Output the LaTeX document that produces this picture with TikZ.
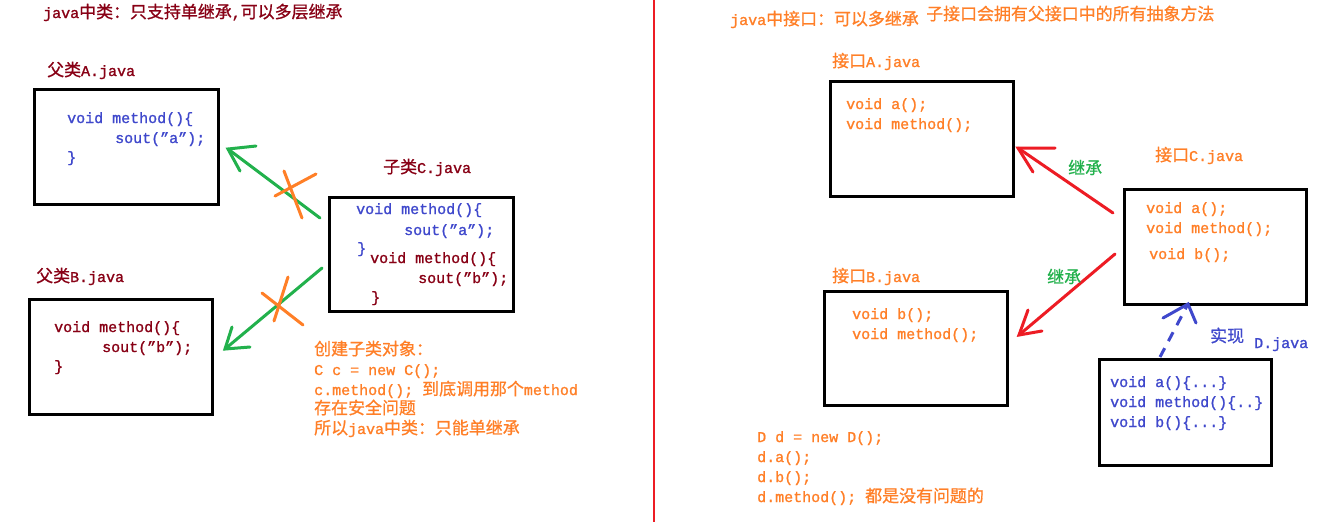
\documentclass[tikz,border=0pt]{standalone}
\usepackage{fontspec}
\setmainfont[FakeBold=1.2]{Liberation Mono}
\newfontfamily\cjk[Scale=1.13,FakeBold=0.8]{Noto Sans CJK SC}
\newcommand\zh[1]{{\cjk #1}}
\definecolor{dred}{HTML}{880015}
\definecolor{pblue}{HTML}{3F48CC}
\definecolor{porange}{HTML}{FF7F27}
\definecolor{pgreen}{HTML}{22B14C}
\definecolor{pred}{HTML}{ED1C24}
\begin{document}
\begin{tikzpicture}[x=1pt,y=-1pt,
  every node/.style={font=\fontsize{15}{20}\selectfont},
  t/.style={anchor=base west, inner sep=0pt},
  box/.style={draw=black, line width=3pt, inner sep=0pt},
  stroke/.style={line width=3pt, line cap=round},
  barb/.style={line width=3pt, line cap=round}]
\useasboundingbox (0,0) rectangle (1333,528);
\fill[white] (0,0) rectangle (1333,528);

% ---------- left half ----------
\node[t, text=dred] (ltitle) at (43,18) {java\zh{中类：只支持单继承},\zh{可以多层继承}};

\node[t, text=dred] (labA) at (47,76) {\zh{父类}A.java};
\node[box, minimum width=184, minimum height=115] (A) at (126.5,147) {};
\node[t, text=pblue] (a1) at (67,123) {void method()\{};
\node[t, text=pblue] (a2) at (115,143) {sout("a");};
\node[t, text=pblue] (a3) at (67,162) {\}};

\node[t, text=dred] (labC) at (383,173) {\zh{子类}C.java};
\node[box, minimum width=184, minimum height=114] (C) at (421.5,254.5) {};
\node[t, text=pblue] (c1) at (356,214) {void method()\{};
\node[t, text=pblue] (c2) at (404,235) {sout("a");};
\node[t, text=pblue] (c3) at (357,253) {\}};
\node[t, text=dred] (c4) at (370,263) {void method()\{};
\node[t, text=dred] (c5) at (418,283) {sout("b");};
\node[t, text=dred] (c6) at (371,302) {\}};

\node[t, text=dred] (labB) at (36,282) {\zh{父类}B.java};
\node[box, minimum width=183, minimum height=115] (B) at (121,357) {};
\node[t, text=dred] (b1) at (54,332) {void method()\{};
\node[t, text=dred] (b2) at (102,352) {sout("b");};
\node[t, text=dred] (b3) at (54,371) {\}};

% green arrows C -> A, C -> B
\coordinate (gA0) at (320,218);
\coordinate (gA1) at (228,149);
\coordinate (gB0) at (322,268);
\coordinate (gB1) at (225,349);
\draw[stroke, pgreen] (gA0) -- (gA1);
\draw[barb, pgreen] (256,146) -- (gA1) -- (240,171);
\draw[stroke, pgreen] (gB0) -- (gB1);
\draw[barb, pgreen] (250,347) -- (gB1) -- (232,327);

% orange crosses
\draw[stroke, porange] (284,171) -- (302,218);
\draw[stroke, porange] (275,196) -- (316,174);
\draw[stroke, porange] (288,277) -- (274,321);
\draw[stroke, porange] (262,293) -- (303,325);

\node[t, text=porange] (n1) at (314,355) {\zh{创建子类对象：}};
\node[t, text=porange] (n2) at (314,375) {C c = new C();};
\node[t, text=porange] (n3) at (314,395) {c.method(); \zh{到底调用那个}method};
\node[t, text=porange] (n4) at (314,414) {\zh{存在安全问题}};
\node[t, text=porange] (n5) at (314,434) {\zh{所以}java\zh{中类：只能单继承}};

% divider
\coordinate (d0) at (654,0);
\coordinate (d1) at (654,522);
\draw[line width=2.5pt, pred] (d0) -- (d1);

% ---------- right half ----------
\node[t, text=porange] (rtitle1) at (730,25) {java\zh{中接口：可以多继承}};
\node[t, text=porange] (rtitle2) at (926,20) {\zh{子接口会拥有父接口中的所有抽象方法}};

\node[t, text=porange] (labIA) at (832,67) {\zh{接口}A.java};
\node[box, minimum width=183, minimum height=115] (IA) at (921.5,138.5) {};
\node[t, text=porange] (ia1) at (846,109) {void a();};
\node[t, text=porange] (ia2) at (846,129) {void method();};

\node[t, text=porange] (labIC) at (1155,161) {\zh{接口}C.java};
\node[box, minimum width=182, minimum height=115] (IC) at (1215,246.5) {};
\node[t, text=porange] (ic1) at (1146,213) {void a();};
\node[t, text=porange] (ic2) at (1146,233) {void method();};
\node[t, text=porange] (ic3) at (1149,259) {void b();};

\node[t, text=porange] (labIB) at (832,282) {\zh{接口}B.java};
\node[box, minimum width=183, minimum height=114] (IB) at (915.5,348) {};
\node[t, text=porange] (ib1) at (852,319) {void b();};
\node[t, text=porange] (ib2) at (852,339) {void method();};

% red arrows IC -> IA, IC -> IB
\coordinate (rA0) at (1113,213);
\coordinate (rA1) at (1018,148);
\coordinate (rB0) at (1115,254);
\coordinate (rB1) at (1019,335);
\draw[stroke, pred] (rA0) -- (rA1);
\draw[barb, pred] (1055,148) -- (rA1) -- (1033,172);
\draw[stroke, pred] (rB0) -- (rB1);
\draw[barb, pred] (1042,331) -- (rB1) -- (1028,310);
\node[t, text=pgreen] (inh1) at (1068,174) {\zh{继承}};
\node[t, text=pgreen] (inh2) at (1047,283) {\zh{继承}};

% D
\node[box, minimum width=172, minimum height=106] (D) at (1185,412) {};
\node[t, text=pblue] (d1t) at (1110,387) {void a()\{...\}};
\node[t, text=pblue] (d2t) at (1110,407) {void method()\{..\}};
\node[t, text=pblue] (d3t) at (1110,427) {void b()\{...\}};
\node[t, text=pblue] (impl) at (1210,342) {\zh{实现}};
\node[t, text=pblue] (labD) at (1254,348) {D.java};

\coordinate (iD0) at (1160,357);
\coordinate (iD1) at (1188,304);
\draw[line width=3pt, pblue, dash pattern=on 10pt off 8pt] (iD0) -- (iD1);
\draw[barb, pblue] (1163,318) -- (iD1) -- (1196,323);

\node[t, text=porange] (m1) at (757,442) {D d = new D();};
\node[t, text=porange] (m2) at (757,462) {d.a();};
\node[t, text=porange] (m3) at (757,482) {d.b();};
\node[t, text=porange] (m4) at (757,502) {d.method(); \zh{都是没有问题的}};
\end{tikzpicture}
\end{document}
